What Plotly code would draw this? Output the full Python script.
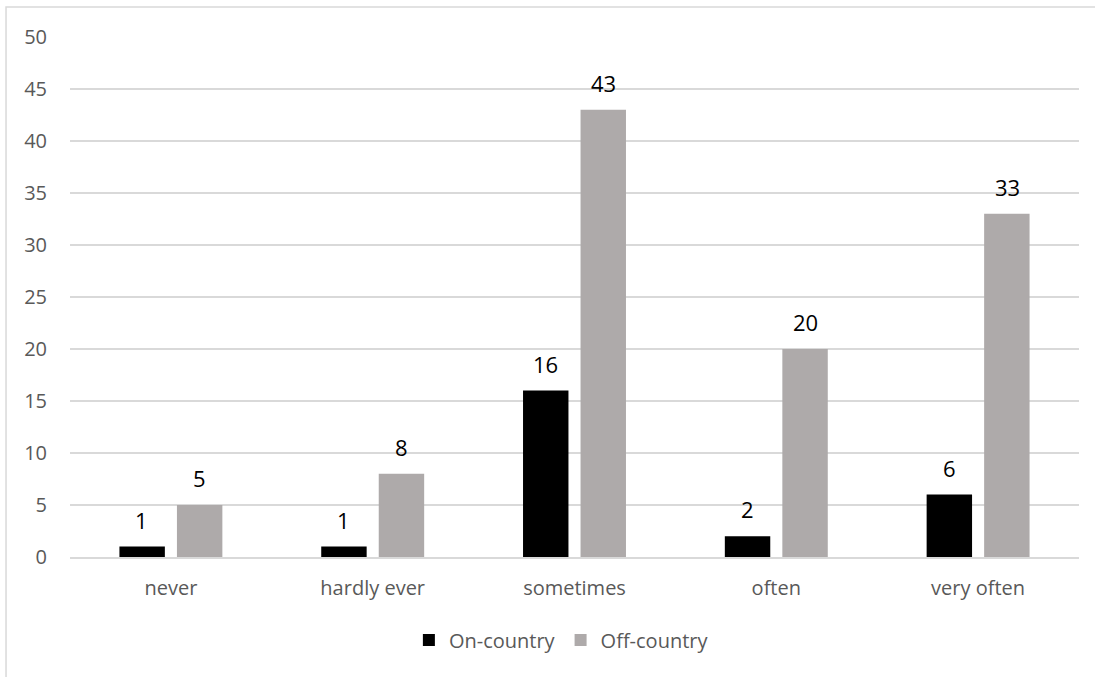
import plotly.graph_objects as go

categories = ["never", "hardly ever", "sometimes", "often", "very often"]
on_country = [1, 1, 16, 2, 6]
off_country = [5, 8, 43, 20, 33]
y_ticks = list(range(0, 55, 5))

FONT = "'Open Sans', sans-serif"
GRID = "#D9D9D9"
LABEL_FONT = dict(family=FONT, size=22, color="#000000")

fig = go.Figure()
fig.add_bar(
    name="On-country", x=categories, y=on_country,
    marker=dict(color="#000000", line=dict(width=0)),
)
fig.add_bar(
    name="Off-country", x=categories, y=off_country,
    marker=dict(color="#AEAAAA", line=dict(width=0)),
)

# value labels above each bar, offset to the bar's slot within its group
annotations = []
for series, shift in ((on_country, -29), (off_country, 29)):
    for cat, val in zip(categories, series):
        annotations.append(dict(
            x=cat, y=val, xref="x", yref="y", text=str(val),
            showarrow=False, xanchor="center", yanchor="bottom",
            xshift=shift, yshift=10, font=LABEL_FONT,
        ))

fig.update_layout(
    width=1095, height=677,
    margin=dict(l=70, r=16, t=37, b=120, autoexpand=False),
    paper_bgcolor="white", plot_bgcolor="white",
    barmode="group", bargap=0.43, bargroupgap=0.21,
    font=dict(family=FONT, size=20, color="#595959"),
    showlegend=True,
    legend=dict(
        orientation="h", x=0.487, xanchor="center", y=-0.122, yanchor="top",
        font=dict(family=FONT, size=20, color="#595959"),
        itemwidth=30, traceorder="normal",
    ),
    xaxis=dict(
        showgrid=False, showline=True, linecolor=GRID, linewidth=1.5,
        ticks="", ticklabelstandoff=12,
        tickfont=dict(family=FONT, size=20, color="#595959"),
    ),
    yaxis=dict(
        range=[0, 50], tickvals=y_ticks, showgrid=True, gridcolor=GRID,
        gridwidth=1.5, zeroline=False, showline=False, ticks="",
        ticklabelstandoff=22,
        tickfont=dict(family=FONT, size=20, color="#595959"),
    ),
    annotations=annotations,
    shapes=[dict(
        type="rect", xref="paper", yref="paper",
        x0=-0.0634, x1=1.1, y0=-0.3, y1=1.0577,
        line=dict(color=GRID, width=1.5), fillcolor="rgba(0,0,0,0)",
        layer="below",
    )],
)

fig.write_html("out.html")
